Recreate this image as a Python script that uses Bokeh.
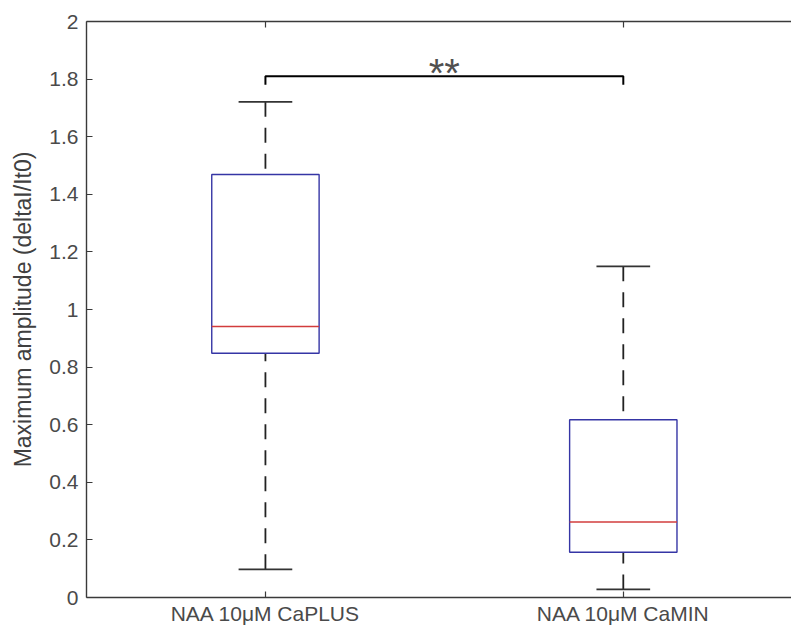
from bokeh.plotting import figure
from bokeh.models import Range1d, FixedTicker, LinearAxis, ColumnDataSource
from bokeh.embed import file_html
from bokeh.resources import INLINE
from bokeh.core.properties import value

# ---- data ----
groups = ["NAA 10\u03bcM CaPLUS", "NAA 10\u03bcM CaMIN"]
positions = [1, 2]
whisker_low = [0.098, 0.028]
q1 = [0.848, 0.157]
median = [0.941, 0.262]
q3 = [1.469, 0.617]
whisker_high = [1.721, 1.150]
y_ticks = [0, 0.2, 0.4, 0.6, 0.8, 1.0, 1.2, 1.4, 1.6, 1.8, 2.0]
y_tick_labels = ["0", "0.2", "0.4", "0.6", "0.8", "1", "1.2", "1.4", "1.6", "1.8", "2"]
y_label = "Maximum amplitude (deltaI/It0)"
sig_label = "**"
sig_level = 1.81
sig_drop = 0.03

FONT = "Liberation Sans"
BOX_HALF = 0.15
CAP_HALF = 0.075

p = figure(width=791, height=630, x_range=Range1d(0.5, 2.47), y_range=Range1d(0, 2),
           output_backend="svg", toolbar_location=None,
           min_border_left=86, min_border_right=0, min_border_top=21, min_border_bottom=33,
           x_axis_location="below")
p.outline_line_color = None
p.xgrid.visible = False
p.ygrid.visible = False
p.background_fill_color = "white"
p.border_fill_color = "white"

AX_COLOR = "#3a3a3a"
LBL_COLOR = "#4a4a4a"

# y axis
ya = p.yaxis[0]
ya.ticker = FixedTicker(ticks=y_ticks)
ya.major_label_overrides = {t: l for t, l in zip(y_ticks, y_tick_labels)}
ya.major_tick_in = 6
ya.major_tick_out = 0
ya.minor_tick_in = 0
ya.minor_tick_out = 0
ya.axis_line_color = AX_COLOR
ya.axis_line_width = 1.4
ya.major_tick_line_color = AX_COLOR
ya.major_tick_line_width = 1.2
ya.major_label_text_font = FONT
ya.major_label_text_font_size = "21px"
ya.major_label_text_color = LBL_COLOR
ya.major_label_standoff = 8
ya.axis_label = y_label
ya.axis_label_text_font = FONT
ya.axis_label_text_font_size = "23px"
ya.axis_label_text_font_style = "normal"
ya.axis_label_text_color = "#404040"
ya.axis_label_standoff = 10

# x axis
xa = p.xaxis[0]
xa.ticker = FixedTicker(ticks=positions)
xa.major_label_overrides = {pos: g for pos, g in zip(positions, groups)}
xa.major_tick_in = 6
xa.major_tick_out = 0
xa.minor_tick_in = 0
xa.minor_tick_out = 0
xa.axis_line_color = AX_COLOR
xa.axis_line_width = 1.4
xa.major_tick_line_color = AX_COLOR
xa.major_tick_line_width = 1.2
xa.major_label_text_font = FONT
xa.major_label_text_font_size = "21px"
xa.major_label_text_color = LBL_COLOR
xa.major_label_standoff = 4

# top box line with mirrored ticks
top = LinearAxis(ticker=FixedTicker(ticks=positions))
top.major_label_overrides = {pos: "" for pos in positions}
top.major_label_text_font_size = "1px"
top.major_label_standoff = 0
top.major_tick_in = 6
top.major_tick_out = 0
top.minor_tick_in = 0
top.minor_tick_out = 0
top.axis_line_color = AX_COLOR
top.axis_line_width = 1.4
top.major_tick_line_color = AX_COLOR
top.major_tick_line_width = 1.2
p.add_layout(top, "above")

src = ColumnDataSource(dict(
    x=positions, lo=whisker_low, q1=q1, med=median, q3=q3, hi=whisker_high,
    left=[x - BOX_HALF for x in positions], right=[x + BOX_HALF for x in positions],
    cl=[x - CAP_HALF for x in positions], cr=[x + CAP_HALF for x in positions],
))

# whiskers (drawn from cap towards the box)
p.segment(x0="x", y0="hi", x1="x", y1="q3", source=src, line_color="#222222",
          line_width=1.8, line_dash="15 11")
p.segment(x0="x", y0="lo", x1="x", y1="q1", source=src, line_color="#222222",
          line_width=1.8, line_dash="15 11")
# caps
p.segment(x0="cl", y0="hi", x1="cr", y1="hi", source=src, line_color="#333333", line_width=1.8)
p.segment(x0="cl", y0="lo", x1="cr", y1="lo", source=src, line_color="#333333", line_width=1.8)
# boxes
p.quad(left="left", right="right", bottom="q1", top="q3", source=src,
       fill_color=None, line_color="#3535a5", line_width=1.4)
# medians
p.segment(x0="left", y0="med", x1="right", y1="med", source=src,
          line_color="#d23c3c", line_width=1.4)

# significance bracket
p.line(x=[positions[0], positions[0], positions[1], positions[1]],
       y=[sig_level - sig_drop, sig_level, sig_level, sig_level - sig_drop],
       line_color="black", line_width=2)
p.text(x=[(positions[0] + positions[1]) / 2], y=[sig_level + 0.012], text=[sig_label],
       text_align="center", text_baseline="alphabetic",
       text_font=value(FONT), text_font_size="40px", text_color="#505050")

open("out.html", "w").write(file_html(p, INLINE))
